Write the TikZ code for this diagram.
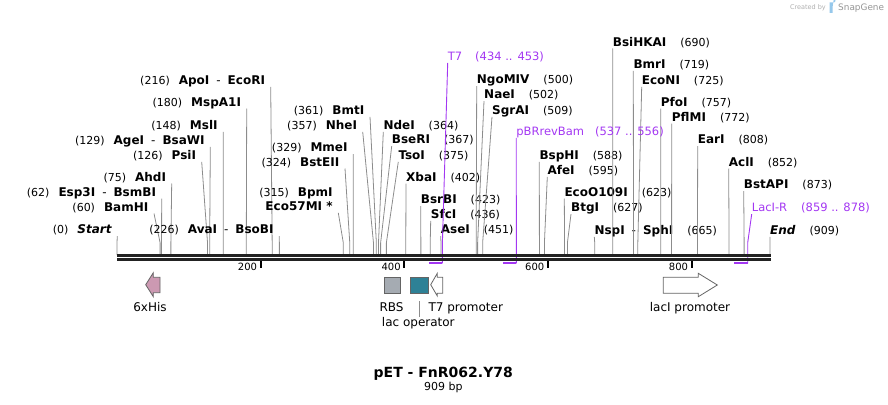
\documentclass[tikz,border=0pt]{standalone}
\usepackage{fontspec}
\setmainfont{DejaVu Sans}
\usepackage{tikz}
\usetikzlibrary{positioning, calc}
\definecolor{cPrimer}{RGB}{163,55,242}
\definecolor{cCut}{RGB}{140,140,140}
\definecolor{cBackbone}{RGB}{34,34,34}
\definecolor{cHis}{RGB}{204,153,178}
\definecolor{cRBS}{RGB}{165,171,178}
\definecolor{cLacO}{RGB}{46,129,150}
\definecolor{cFeat}{RGB}{100,100,100}
\definecolor{cMark}{RGB}{175,175,175}
\definecolor{cLogo}{RGB}{150,200,235}
\tikzset{
	lcut/.style    ={anchor=base east, inner xsep=5.5pt, inner ysep=0pt, text height=9pt, text depth=2.2pt, font=\fontsize{11}{13}\selectfont},
	rcut/.style    ={anchor=base west, inner xsep=0pt, inner ysep=0pt, text height=9pt, text depth=2.2pt, font=\fontsize{11}{13}\selectfont},
	cutline/.style ={draw=cCut, line width=0.8pt},
	plab/.style    ={anchor=base west, inner xsep=0pt, inner ysep=0pt, text height=9pt, text depth=2.2pt, text=cPrimer, font=\fontsize{11.5}{13}\selectfont},
	pline/.style   ={draw=cPrimer, line width=0.9pt},
	pbar/.style    ={draw=cPrimer, line width=2pt},
	bbline/.style  ={draw=cBackbone, line width=2.7pt},
	tickmark/.style={draw=black, line width=2pt},
	ticklab/.style ={anchor=base east, inner sep=0pt, font=\fontsize{10}{12}\selectfont},
	feat/.style    ={draw=cFeat, line width=0.8pt},
	flab/.style    ={anchor=base, inner sep=0pt, font=\fontsize{12}{14}\selectfont},
}
\newcommand{\enz}[1]{{\fontsize{12}{14}\selectfont\bfseries #1}}
\newcommand{\enzsep}{\hspace{7pt}{\mdseries-}\hspace{7pt}}
% site label left of its line: id, bp, line top x, baseline y, name
\newcommand{\lsite}[5]{%
	\coordinate (k#1) at ({117+#2*0.71837},242.7);
	\coordinate (c#1) at ({117+#2*0.71837},255);
	\node[lcut] (l#1) at (#3,#4) {(#2)\hspace{9pt}\enz{#5}};
	\draw[cutline] (l#1.south east) -- (k#1) -- (c#1);}
% site label right of its line
\newcommand{\rsite}[5]{%
	\coordinate (k#1) at ({117+#2*0.71837},242.7);
	\coordinate (c#1) at ({117+#2*0.71837},255);
	\node[rcut] (r#1) at (#3,#4) {\enz{#5}\hspace{14pt}(#2)};
	\draw[cutline] (r#1.south west) -- (k#1) -- (c#1);}

\begin{document}
\begin{tikzpicture}[x=1pt, y=-1pt]
	\useasboundingbox (0,0) rectangle (888,404);

	% cut sites, left labels
	\lsite{Start}{0}{117.3}{233.7}{\itshape Start}
	\lsite{BamHI}{60}{154}{211.1}{BamHI}
	\lsite{BsmBI}{62}{161.7}{196.1}{Esp3I\enzsep BsmBI}
	\lsite{AhdI}{75}{171.7}{181.1}{AhdI}
	\lsite{PsiI}{126}{201.7}{159.4}{PsiI}
	\lsite{AgeI}{129}{210.3}{144.4}{AgeI\enzsep BsaWI}
	\lsite{MslI}{148}{223.3}{129.4}{MslI}
	\lsite{MspAI}{180}{246.7}{106.1}{MspA1I}
	\lsite{EcoRI}{216}{270.7}{84.4}{ApoI\enzsep EcoRI}
	\lsite{AvaI}{226}{279.3}{233.7}{AvaI\enzsep BsoBI}
	\coordinate (kBpmI) at ({117+315*0.71837},242.7);
	\coordinate (cBpmI) at ({117+315*0.71837},255);
	\node[lcut] (lBpmI) at (338.3,196.1) {(315)\hspace{9pt}\enz{BpmI}};
	\node[lcut] (lEcoMI) at (338.3,210.4) {\enz{Eco57MI *}};
	\draw[cutline] (lEcoMI.south east) -- (kBpmI) -- (cBpmI);
	\lsite{BstEII}{324}{345}{166.1}{BstEII}
	\lsite{MmeI}{329}{353.3}{151.7}{MmeI}
	\lsite{NheI}{357}{362.7}{129.4}{NheI}
	\lsite{BmtI}{361}{370}{114.4}{BmtI}

	% cut sites, right labels
	\rsite{NdeI}{364}{383.3}{129.4}{NdeI}
	\rsite{BseRI}{367}{391.7}{143.7}{BseRI}
	\rsite{TsoI}{375}{398.3}{159.4}{TsoI}
	\rsite{XbaI}{402}{406}{181.1}{XbaI}
	\rsite{BsrBI}{423}{420.7}{203.7}{BsrBI}
	\rsite{SfcI}{436}{430.7}{218.4}{SfcI}
	\rsite{AseI}{451}{440.7}{233.7}{AseI}
	\rsite{NgoMIV}{500}{476.7}{83.7}{NgoMIV}
	\rsite{NaeI}{502}{484}{98.7}{NaeI}
	\rsite{SgrAI}{509}{492}{114.4}{SgrAI}
	\rsite{BspHI}{588}{539.3}{159.4}{BspHI}
	\rsite{AfeI}{595}{547.3}{174.4}{AfeI}
	\rsite{EcoOI}{623}{564.3}{196.1}{EcoO109I}
	\rsite{BtgI}{627}{571}{211.7}{BtgI}
	\rsite{SphI}{665}{594.3}{234.4}{NspI\enzsep SphI}
	\rsite{BsiHKAI}{690}{612.7}{46.1}{BsiHKAI}
	\rsite{BmrI}{719}{633.3}{68.4}{BmrI}
	\rsite{EcoNI}{725}{641.7}{84.4}{EcoNI}
	\rsite{PfoI}{757}{660.7}{106.1}{PfoI}
	\rsite{PflMI}{772}{671.7}{121.1}{PflMI}
	\rsite{EarI}{808}{697.7}{143.7}{EarI}
	\rsite{AclI}{852}{728.7}{166.1}{AclI}
	\rsite{BstAPI}{873}{743.7}{188.7}{BstAPI}
	\rsite{End}{909}{770}{234.4}{\itshape End}

	% primers
	\node[plab] (pT7) at (447.7,60.4) {T7\hspace{13pt}(434 .. 453)};
	\coordinate (kT7) at (442.4,242.7);
	\coordinate (eT7) at (442.4,263.3);
	\coordinate (sT7) at (428.8,263.3);
	\draw[pline] (pT7.south west) -- (kT7) -- (eT7);
	\draw[pbar] (eT7) -- (sT7);
	\node[plab] (pBR) at (516.2,135.4) {pBRrevBam\hspace{11pt}(537 .. 556)};
	\coordinate (ePBR) at (516.4,263.3);
	\coordinate (sPBR) at (502.8,263.3);
	\draw[pline] (pBR.south west) -- (ePBR);
	\draw[pbar] (ePBR) -- (sPBR);
	\node[plab] (pLacI) at (751.7,211.7) {LacI-R\hspace{14pt}(859 .. 878)};
	\coordinate (kLacI) at (747.7,242.7);
	\coordinate (eLacI) at (747.7,263.3);
	\coordinate (sLacI) at (734.1,263.3);
	\draw[pline] (pLacI.south west) -- (kLacI) -- (eLacI);
	\draw[pbar] (eLacI) -- (sLacI);

	% backbone
	\coordinate (bbL) at (117.3,255.3);
	\coordinate (bbR) at (771,255.3);
	\draw[bbline] (bbL) -- (bbR);
	\draw[bbline] ($(bbL)+(0,4.1)$) -- ($(bbR)+(0,4.1)$);
	\foreach \t in {200,400,600,800}{
		\coordinate (t\t) at ({117+\t*0.71837},261);
		\draw[tickmark] (t\t) -- ++(0,6.5);
		\node[ticklab] (tl\t) at ($(t\t)+(-3.5,9.3)$) {\t};
	}

	% features
	\draw[feat, fill=cHis] (160,277.3) -- (153.3,277.3) -- (153.3,272.7) -- (145.7,284.7) -- (153.3,296.7) -- (153.3,292.7) -- (160,292.7) -- cycle;
	\draw[feat, fill=cRBS] (384,277.3) rectangle (400.7,293.3);
	\draw[feat, fill=cLacO] (410,277.3) rectangle (428.7,293.3);
	\draw[feat, fill=white] (442.7,277.3) -- (437.3,277.3) -- (437.3,273.3) -- (430.7,284.7) -- (437.3,296) -- (437.3,293.3) -- (442.7,293.3) -- cycle;
	\draw[feat, fill=white] (663.3,277.3) -- (698.3,277.3) -- (698.3,273.3) -- (717.3,285) -- (698.3,296.7) -- (698.3,293.3) -- (663.3,293.3) -- cycle;
	\node[flab] (fHis) at (150,311.1) {6xHis};
	\node[flab] (fRBS) at (391.5,311.1) {RBS};
	\node[flab, anchor=base west] (fT7p) at (428.3,311.1) {T7 promoter};
	\node[flab] (fLacO) at (418.3,326.4) {lac operator};
	\coordinate (lacOtop) at (419.3,300.7);
	\draw[cutline] (fLacO.north -| lacOtop) -- (lacOtop);
	\node[flab] (fLacIp) at (690,311.1) {lacI promoter};

	% title
	\node[inner sep=0pt, font=\fontsize{14}{16}\selectfont\bfseries] (title) at (443.3,373.8) {pET - FnR062.Y78};
	\node[inner sep=0pt, font=\fontsize{11}{13}\selectfont, below=1.5pt of title] (len) {909 bp};

	% watermark
	\node[inner sep=0pt, anchor=base east, text=cMark, font=\fontsize{6.5}{8}\selectfont] (wmA) at (826,10) {Created by};
	\node[inner sep=0pt, anchor=base west, text=cMark!85!black, font=\fontsize{8.9}{10}\selectfont] (wmB) at (838,11) {SnapGene};
	\fill[cLogo] (829.5,2.5) rectangle (832.5,13) (832.5,2.5) -- (834,2.5) arc (90:-90:1.5 and 2.5) -- (832.5,7.5) -- cycle;
\end{tikzpicture}
\end{document}
